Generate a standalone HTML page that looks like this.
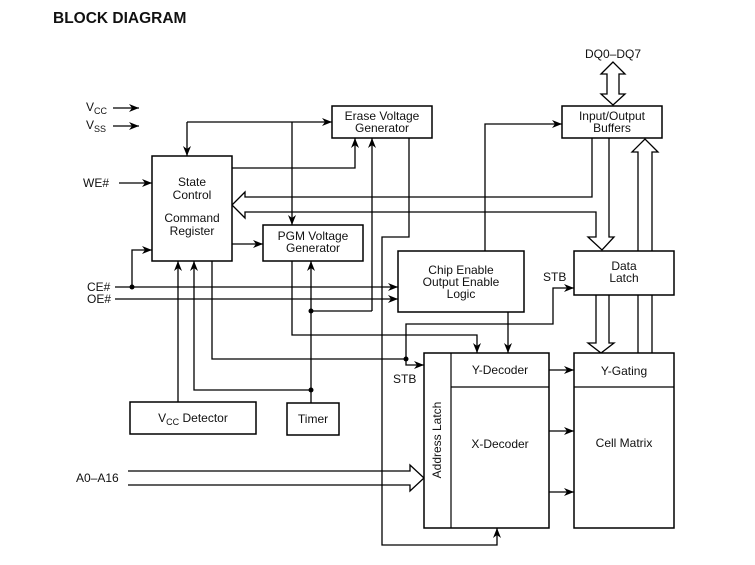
<!DOCTYPE html>
<html><head><style>
html,body{margin:0;padding:0;background:#fff;}
svg{display:block;}
text{font-family:"Liberation Sans",Arial,sans-serif;font-size:12px;fill:#111;}
</style></head><body>
<svg width="755" height="565" viewBox="0 0 755 565" xmlns="http://www.w3.org/2000/svg">
<defs>
<marker id="a" markerWidth="10" markerHeight="8" refX="10" refY="4" orient="auto" markerUnits="userSpaceOnUse">
<path d="M0,0 L10,4 L0,8 L3,4 Z" fill="#000"/></marker>
</defs>
<text x="53" y="23" style="font-size:15.5px;font-weight:bold">BLOCK DIAGRAM</text>
<g stroke="#000" stroke-width="1.3" fill="none">
<line x1="113" y1="108" x2="139" y2="108" marker-end="url(#a)"/>
<line x1="113" y1="126" x2="139" y2="126" marker-end="url(#a)"/>
<line x1="119" y1="183" x2="152" y2="183" marker-end="url(#a)"/>
<line x1="115" y1="287" x2="398" y2="287" marker-end="url(#a)"/>
<line x1="115" y1="299" x2="398" y2="299" marker-end="url(#a)"/>
<polyline points="132,287 132,250 152,250" marker-end="url(#a)"/>
<polyline points="187,122 187,156" marker-end="url(#a)"/>
<polyline points="187,122 332,122" marker-end="url(#a)"/>
<polyline points="292,122 292,225" marker-end="url(#a)"/>
<polyline points="232,168 355,168 355,138" marker-end="url(#a)"/>
<polyline points="372,311 372,138" marker-end="url(#a)"/>
<line x1="311" y1="311" x2="372" y2="311"/>
<line x1="232" y1="244" x2="263" y2="244" marker-end="url(#a)"/>
<polyline points="292,261 292,335 477,335 477,353" marker-end="url(#a)"/>
<line x1="311" y1="403" x2="311" y2="261" marker-end="url(#a)"/>
<polyline points="311,390 194,390 194,261" marker-end="url(#a)"/>
<line x1="178" y1="402" x2="178" y2="261" marker-end="url(#a)"/>
<polyline points="212,261 212,359 406,359 406,365 424,365" marker-end="url(#a)"/>
<polyline points="406,359 406,324 553,324 553,288 574,288" marker-end="url(#a)"/>
<line x1="508" y1="312" x2="508" y2="353" marker-end="url(#a)"/>
<polyline points="409,138 409,237 382,237 382,545 497,545 497,528" marker-end="url(#a)"/>
<polyline points="592,138 592,197 245,197 245,192 232,205 245,218 245,212 596,212 596,237 588,237 602,250 614,237 609,237 609,138"/>
<polyline points="485,251 485,124 562,124" marker-end="url(#a)"/>
<polyline points="638,353 638,152 632,152 645,139 658,152 652,152 652,353"/>
<polyline points="596,295 596,343 588,343 601,353 614,343 609,343 609,295"/>
<polygon points="613,62 601,74 607,74 607,94 601,94 613,105 625,94 619,94 619,74 625,74"/>
<polyline points="128,471 410,471 410,465 424,478 410,491 410,485 128,485"/>
<line x1="549" y1="370" x2="574" y2="370" marker-end="url(#a)"/>
<line x1="549" y1="431" x2="574" y2="431" marker-end="url(#a)"/>
<line x1="549" y1="492" x2="574" y2="492" marker-end="url(#a)"/>
</g>
<g fill="#000">
<circle cx="132" cy="287" r="2.5"/><circle cx="311" cy="311" r="2.5"/><circle cx="311" cy="390" r="2.5"/><circle cx="406" cy="359" r="2.5"/>
</g>
<g stroke="#000" stroke-width="1.5" fill="#fff">
<rect x="152" y="156" width="80" height="105"/>
<rect x="332" y="106" width="100" height="32"/>
<rect x="263" y="225" width="100" height="36"/>
<rect x="562" y="106" width="100" height="32"/>
<rect x="398" y="251" width="126" height="61"/>
<rect x="574" y="251" width="100" height="44"/>
<rect x="130" y="402" width="126" height="32"/>
<rect x="287" y="403" width="52" height="32"/>
<rect x="424" y="353" width="125" height="175"/>
<rect x="574" y="353" width="100" height="175"/>
</g>
<g stroke="#000" stroke-width="1.2">
<line x1="451" y1="353" x2="451" y2="528"/>
<line x1="451" y1="387" x2="549" y2="387"/>
<line x1="574" y1="387" x2="674" y2="387"/>
</g>
<g text-anchor="middle">
<text x="192" y="186">State</text><text x="192" y="199">Control</text>
<text x="192" y="222">Command</text><text x="192" y="235">Register</text>
<text x="382" y="120">Erase Voltage</text><text x="382" y="132">Generator</text>
<text x="313" y="240">PGM Voltage</text><text x="313" y="252">Generator</text>
<text x="612" y="120">Input/Output</text><text x="612" y="132">Buffers</text>
<text x="461" y="274">Chip Enable</text><text x="461" y="286">Output Enable</text><text x="461" y="298">Logic</text>
<text x="624" y="270">Data</text><text x="624" y="282">Latch</text>
<text x="193" y="422">V<tspan font-size="9" dy="3">CC</tspan><tspan dy="-3"> Detector</tspan></text>
<text x="313" y="423">Timer</text>
<text x="500" y="374">Y-Decoder</text>
<text x="500" y="448">X-Decoder</text>
<text x="624" y="375">Y-Gating</text>
<text x="624" y="447">Cell Matrix</text>
<text x="613" y="58">DQ0–DQ7</text>
<text transform="translate(441,440) rotate(-90)">Address Latch</text>
</g>
<text x="86" y="111">V<tspan font-size="9" dy="3">CC</tspan></text>
<text x="86" y="129">V<tspan font-size="9" dy="3">SS</tspan></text>
<text x="83" y="187">WE#</text>
<text x="87" y="291">CE#</text>
<text x="87" y="303">OE#</text>
<text x="543" y="281">STB</text>
<text x="393" y="383">STB</text>
<text x="76" y="482">A0–A16</text>
</svg>
</body></html>
